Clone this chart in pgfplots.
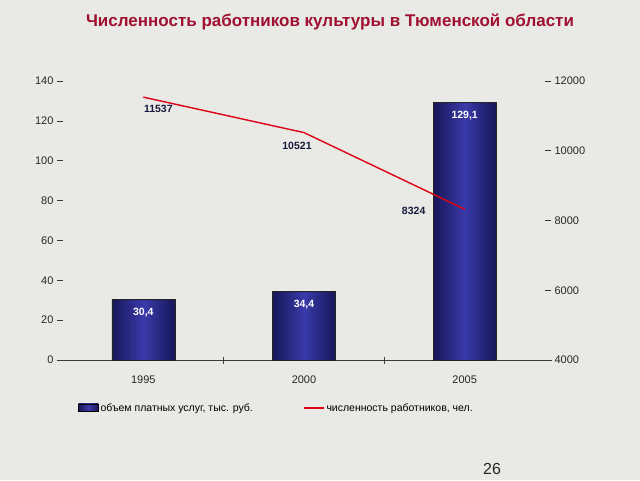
\documentclass[border=0pt]{standalone}
\usepackage{pgfplots}
\usepackage{pgfplotstable}
\pgfplotsset{compat=1.18}
\usepackage{fontspec}
\setmainfont{Liberation Sans}

\definecolor{bgcol}{RGB}{233,233,230}
\definecolor{navydark}{RGB}{22,22,88}
\definecolor{navymid}{RGB}{58,58,170}
\definecolor{titlered}{RGB}{160,16,48}
\definecolor{linered}{RGB}{222,0,20}
\definecolor{labelnavy}{RGB}{25,25,60}
\definecolor{axisgray}{RGB}{60,60,60}

% one table per bar, so each bar gets its own shading
\pgfplotstableread{
x y lab
0 30.4 {30,4}
}\servicesA
\pgfplotstableread{
x y lab
1 34.4 {34,4}
}\servicesB
\pgfplotstableread{
x y lab
2 129.1 {129,1}
}\servicesC

\pgfplotstableread{
x y dx dy
0 11537 15 -12
1 10521 -7 -13
2 8324 -51 -2
}\staff

\pgfplotsset{
  /pgf/number format/assume math mode=true,
  /pgf/number format/1000 sep={},
  common/.style={
    at={(63pt,120pt)}, anchor=south west,
    scale only axis, width=482pt, height=279pt,
    xmin=-0.5, xmax=2.5,
    tick align=outside, major tick length=6pt,
    tick label style={font=\fontsize{11}{13}\selectfont, text=black!85},
    y axis line style={draw=none},
    tick style={axisgray, line width=0.6pt},
    scaled y ticks=false,
    clip=false,
  },
  barstyle/.style={ybar, bar width=63pt, draw=black!85, line width=0.5pt,
    left color=navydark, right color=navydark, middle color=navymid,
    point meta=explicit symbolic,
    nodes near coords, nodes near coords align={below},
    nodes near coords style={text=white, font=\bfseries\fontsize{10.5}{12}\selectfont, yshift=-5pt}},
}

\begin{document}
\begin{tikzpicture}
\fill[bgcol] (0,0) rectangle (640pt,480pt);
\node[font=\bfseries\fontsize{17}{20}\selectfont, text=titlered] at (330pt,458pt)
  {Численность работников культуры в Тюменской области};

\begin{axis}[common,
  ymin=0, ymax=140, ytick={0,20,...,140},
  axis x line*=bottom, axis y line*=left,
  x axis line style={-, axisgray, line width=0.8pt, shorten <=-6pt, shorten >=-7pt},
  xtick={0,1,2}, xticklabels={1995,2000,2005},
  every major x tick/.append style={draw=none},
  minor xtick={0.5,1.5}, minor tick length=7pt,
  every minor x tick/.append style={yshift=3.5pt},
  xticklabel style={yshift=-6pt},
]
\addplot[barstyle] table[x=x, y=y, meta=lab] {\servicesA};
\addplot[barstyle] table[x=x, y=y, meta=lab] {\servicesB};
\addplot[barstyle] table[x=x, y=y, meta=lab] {\servicesC};
\end{axis}

\begin{axis}[common,
  ymin=4000, ymax=12000, ytick={4000,6000,...,12000},
  axis y line*=right, hide x axis,
  legend style={at={(0.031,-0.172)}, anchor=west, draw=none, fill=none,
    font=\fontsize{10.5}{12}\selectfont, inner xsep=0pt,
    /tikz/every even column/.append style={column sep=48pt}},
  legend columns=2,
]
\addlegendimage{legend image code/.code={
  \fill[left color=navydark, right color=navydark, middle color=navymid] (0pt,-3.5pt) rectangle (20pt,4pt);}}
\addlegendentry{объем платных услуг, тыс. руб.}
\addplot[linered, line width=1.4pt, mark=none,
  legend image code/.code={\draw[linered, line width=1.6pt] (0pt,0pt) -- (20pt,0pt);},
  visualization depends on=\thisrow{dx}\as\dx,
  visualization depends on=\thisrow{dy}\as\dy,
  nodes near coords,
  nodes near coords style={anchor=center, xshift=\dx pt, yshift=\dy pt,
    text=labelnavy, font=\bfseries\fontsize{10.5}{12}\selectfont},
] table[x=x, y=y] {\staff};
\addlegendentry{численность работников, чел.}
\end{axis}

\node[font=\fontsize{16}{19}\selectfont, text=black!85] at (492pt,11pt) {26};
\end{tikzpicture}
\end{document}
